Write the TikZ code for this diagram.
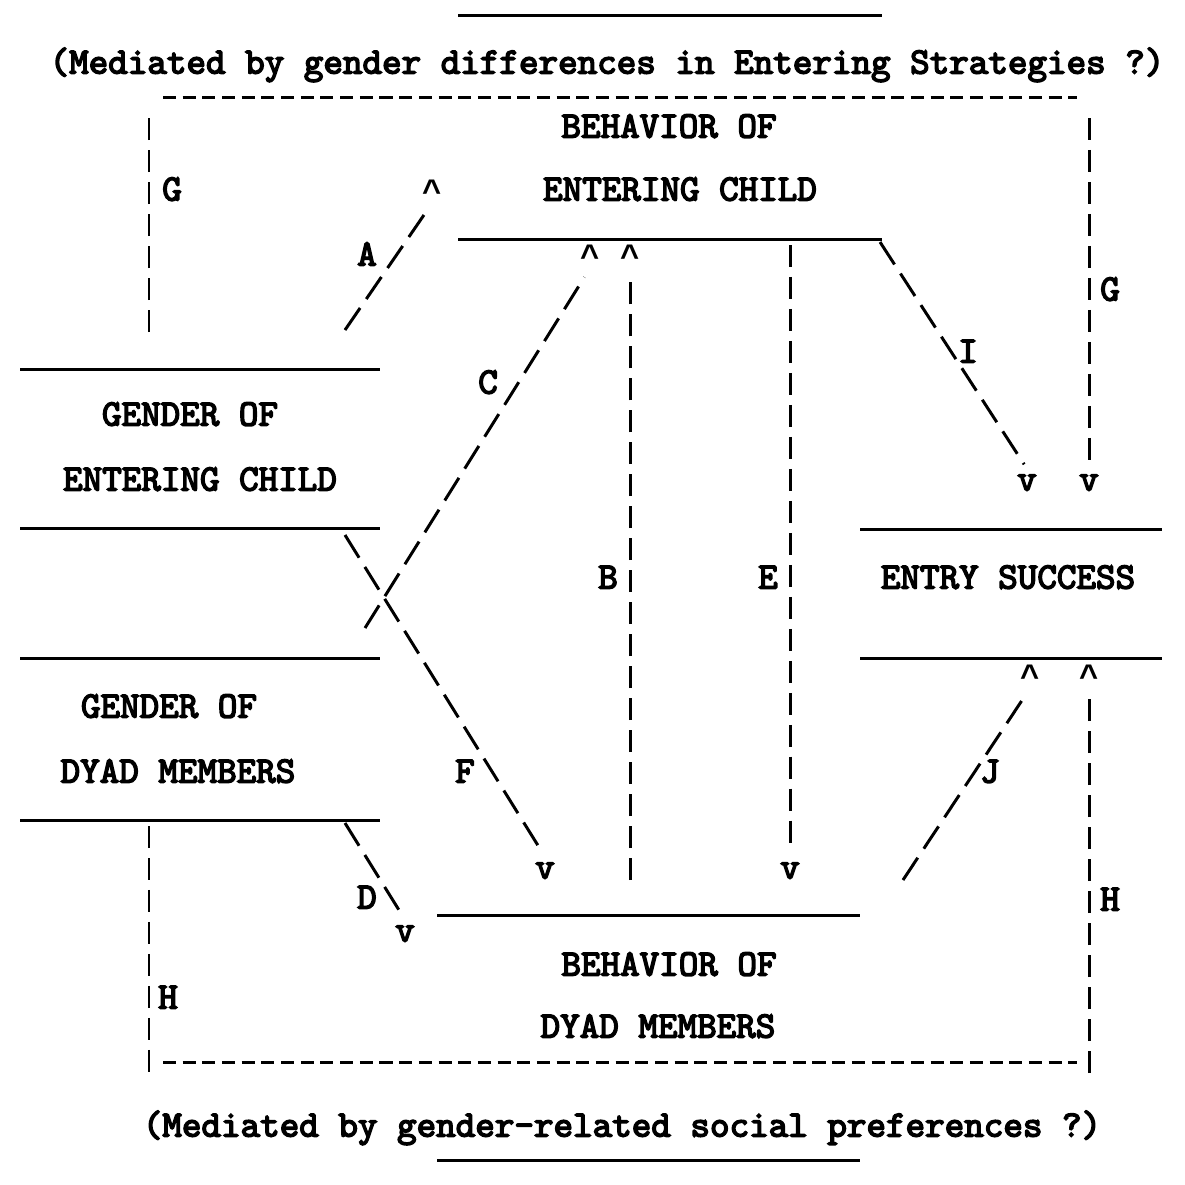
\documentclass[tikz,border=0pt]{standalone}
\usepackage{fontspec}
\newfontfamily\twfont[FakeBold=4]{Latin Modern Mono}
\newfontfamily\tipfont{Liberation Mono Bold}
\begin{document}
\begin{tikzpicture}[x=0.1mm, y=-0.1mm,
  txt/.style={font=\fontsize{10.6}{12}\selectfont\twfont, inner sep=0pt,
    text height=6pt, text depth=0pt},
  arrowhd/.style={txt, font=\fontsize{9.3}{11}\selectfont\tipfont},
  rule/.style={line width=0.85pt},
  link/.style={line width=0.85pt, dash pattern=on 6.3pt off 2.8pt},
  slant/.style={line width=0.85pt, dash pattern=on 7.6pt off 3.1pt},
  hlink/.style={line width=0.85pt, dash pattern=on 3.7pt off 1.9pt}]

  \useasboundingbox (0,0) rectangle (1185,1184);

  % Kaders
  \draw[rule] (458,15) -- (882,15);
  \draw[rule] (458,239) -- (882,239);
  \draw[rule] (20,369) -- (380,369);
  \draw[rule] (20,528) -- (380,528);
  \draw[rule] (20,658) -- (380,658);
  \draw[rule] (20,820) -- (380,820);
  \draw[rule] (860,529) -- (1162,529);
  \draw[rule] (860,658) -- (1162,658);
  \draw[rule] (437,915) -- (860,915);
  \draw[rule] (437,1160) -- (860,1160);

  % Teksten
  \node[txt] (topnote) at (607,63) {(Mediated by gender differences in Entering Strategies ?)};
  \node[txt] (bec1) at (669,127) {BEHAVIOR OF};
  \node[txt] (bec2) at (680,190) {ENTERING CHILD};
  \node[txt] (gec1) at (190,415) {GENDER OF};
  \node[txt] (gec2) at (200,480) {ENTERING CHILD};
  \node[txt] (gdm1) at (169,707) {GENDER OF};
  \node[txt] (gdm2) at (178,772) {DYAD MEMBERS};
  \node[txt] (succ) at (1008,578) {ENTRY SUCCESS};
  \node[txt] (bdm1) at (669,965) {BEHAVIOR OF};
  \node[txt] (bdm2) at (658,1027) {DYAD MEMBERS};
  \node[txt] (botnote) at (622,1126) {(Mediated by gender-related social preferences ?)};

  % Pijlpunten
  \node[arrowhd] (aHead) at (432,192) {\textasciicircum};
  \node[arrowhd] (cHead) at (590,257) {\textasciicircum};
  \node[arrowhd] (bHead) at (630,257) {\textasciicircum};
  \node[arrowhd] (jHead) at (1030,677) {\textasciicircum};
  \node[arrowhd] (hHead) at (1089,677) {\textasciicircum};
  \node[txt] (iHead) at (1027,480) {v};
  \node[txt] (gHead) at (1089,480) {v};
  \node[txt] (fHead) at (545,868) {v};
  \node[txt] (eHead) at (790,868) {v};
  \node[txt] (dHead) at (405,931) {v};

  % Beginpunten
  \coordinate (a0) at (345,330);
  \coordinate (c0) at (365,628);
  \coordinate (b0) at (630,880);
  \coordinate (e0) at (790,245);
  \coordinate (f0) at (345,535);
  \coordinate (d0) at (345,823);
  \coordinate (i0) at (880,242);
  \coordinate (j0) at (903,880);
  \coordinate (gl0) at (149,332);
  \coordinate (gl1) at (149,116);
  \coordinate (gt0) at (163,97);
  \coordinate (gt1) at (1077,97);
  \coordinate (gr0) at (1089,118);
  \coordinate (hl0) at (149,826);
  \coordinate (hl1) at (149,1073);
  \coordinate (hb0) at (163,1062);
  \coordinate (hb1) at (1077,1062);
  \coordinate (hr0) at (1089,1073);

  % Verbindingen
  \draw[slant, shorten >=3pt] (a0) -- (aHead.south);
  \draw[slant, shorten >=3pt] (c0) -- (cHead.south);
  \draw[link, shorten >=3pt] (b0) -- (bHead.south);
  \draw[link, shorten >=1.5pt] (e0) -- (eHead.north);
  \draw[slant, shorten >=1.5pt] (f0) -- (fHead.north);
  \draw[slant, shorten >=1.5pt] (d0) -- (dHead.north);
  \draw[slant, shorten >=1.5pt] (i0) -- (iHead.north);
  \draw[slant, shorten >=3pt] (j0) -- (jHead.south);

  % G en H
  \draw[link] (gl0) -- (gl1);
  \draw[hlink] (gt0) -- (gt1);
  \draw[link] (gr0) -- (gHead.north);
  \draw[link] (hl0) -- (hl1);
  \draw[hlink] (hb0) -- (hb1);
  \draw[link, shorten >=3pt] (hr0) -- (hHead.south);

  % Labels
  \node[txt] (gLeft) at (172,190) {G};
  \node[txt] (gRight) at (1110,290) {G};
  \node[txt] (hLeft) at (168,998) {H};
  \node[txt] (hRight) at (1110,900) {H};
  \node[txt] (aLab) at (367,255) {A};
  \node[txt] (cLab) at (488,383) {C};
  \node[txt] (iLab) at (968,352) {I};
  \node[txt] (bLab) at (608,578) {B};
  \node[txt] (eLab) at (768,578) {E};
  \node[txt] (fLab) at (465,772) {F};
  \node[txt] (jLab) at (990,772) {J};
  \node[txt] (dLab) at (367,898) {D};

\end{tikzpicture}
\end{document}
